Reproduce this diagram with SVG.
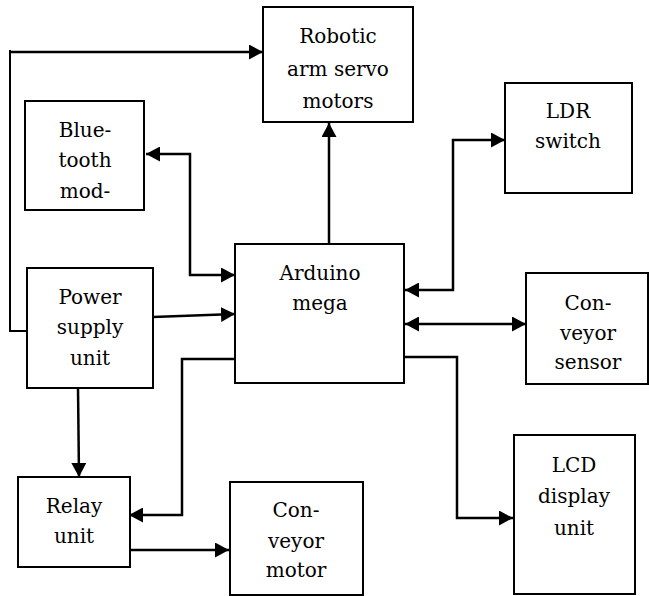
<svg xmlns="http://www.w3.org/2000/svg" width="649" height="596" viewBox="0 0 649 596">
<style>
.box{fill:#fff;stroke:#000;stroke-width:2}
.lbl{font-family:"DejaVu Serif","Liberation Serif",serif;font-size:20px;text-anchor:middle;fill:#000}
.c{fill:none;stroke:#000;stroke-width:2.5}
.e{marker-end:url(#ah)}
.b{marker-start:url(#ahs);marker-end:url(#ah)}
</style>
<defs>
<marker id="ah" markerUnits="userSpaceOnUse" markerWidth="14" markerHeight="15" refX="14" refY="7.5" orient="auto"><path d="M0,0 L14,7.5 L0,15 z" fill="#000"/></marker>
<marker id="ahs" markerUnits="userSpaceOnUse" markerWidth="14" markerHeight="15" refX="0" refY="7.5" orient="auto"><path d="M14,0 L0,7.5 L14,15 z" fill="#000"/></marker>
</defs>
<rect width="649" height="596" fill="#fff"/>
<g id="connectors">
<path class="c e" d="M10,52 L263,52"/>
<path class="c" d="M10,50 L10,331 L27,331" style="stroke-width:2"/>
<path class="c b" d="M146,154 L190,154 L190,275 L235,275"/>
<path class="c e" d="M329,244 L329,123"/>
<path class="c b" d="M405,290 L453,290 L453,140 L505,140"/>
<path class="c b" d="M405,324 L526,324"/>
<path class="c e" d="M404,357 L457,357 L457,518 L513,518"/>
<path class="c e" d="M153,317 L235,314"/>
<path class="c e" d="M78,388 L79,477"/>
<path class="c e" d="M235,359 L182,359 L182,515 L129,515"/>
<path class="c e" d="M130,550 L229,550"/>
</g>
<g id="robotic"><rect class="box" x="263" y="7" width="150" height="115"/>
<text class="lbl" x="338" y="43">Robotic</text><text class="lbl" x="338" y="76">arm servo</text><text class="lbl" x="338" y="108">motors</text></g>
<g id="bluetooth"><rect class="box" x="25" y="101" width="119" height="109"/>
<text class="lbl" x="85" y="137">Blue-</text><text class="lbl" x="85" y="167">tooth</text><text class="lbl" x="85" y="198">mod-</text></g>
<g id="ldr"><rect class="box" x="505" y="83" width="127" height="110"/>
<text class="lbl" x="568" y="118">LDR</text><text class="lbl" x="568" y="148">switch</text></g>
<g id="arduino"><rect class="box" x="235" y="244" width="169" height="139"/>
<text class="lbl" x="320" y="280">Arduino</text><text class="lbl" x="320" y="310">mega</text></g>
<g id="power"><rect class="box" x="27" y="268" width="126" height="120"/>
<text class="lbl" x="90" y="304">Power</text><text class="lbl" x="90" y="334">supply</text><text class="lbl" x="90" y="365">unit</text></g>
<g id="sensor"><rect class="box" x="526" y="273" width="122" height="111"/>
<text class="lbl" x="588" y="310">Con-</text><text class="lbl" x="588" y="340">veyor</text><text class="lbl" x="588" y="369">sensor</text></g>
<g id="lcd"><rect class="box" x="514" y="435" width="121" height="159"/>
<text class="lbl" x="574" y="472">LCD</text><text class="lbl" x="574" y="503">display</text><text class="lbl" x="574" y="535">unit</text></g>
<g id="relay"><rect class="box" x="18" y="477" width="112" height="90"/>
<text class="lbl" x="74" y="513">Relay</text><text class="lbl" x="74" y="543">unit</text></g>
<g id="motor"><rect class="box" x="230" y="482" width="133" height="113"/>
<text class="lbl" x="296" y="517">Con-</text><text class="lbl" x="296" y="548">veyor</text><text class="lbl" x="296" y="577">motor</text></g>
</svg>
